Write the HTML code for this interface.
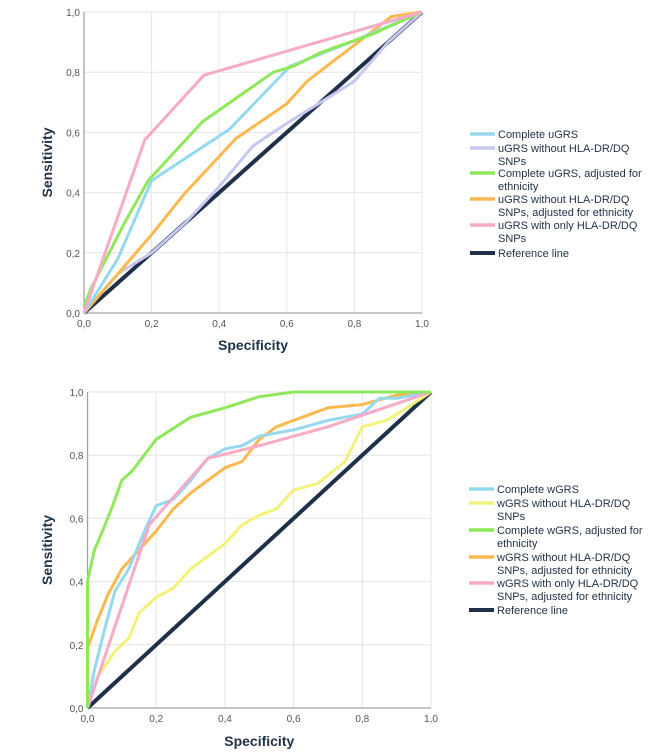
<!DOCTYPE html>
<html><head><meta charset="utf-8"><style>
body{margin:0;background:#fff;}
svg{display:block;font-family:"Liberation Sans",sans-serif;}
</style></head><body>
<svg id="s" width="666" height="752" viewBox="0 0 666 752"></svg>
<script>
const ticks=[0,0.2,0.4,0.6,0.8,1.0];
const tickLabels=["0,0","0,2","0,4","0,6","0,8","1,0"];
// top chart series [specificity-axis, sensitivity]
const topBlueX=[0,0.1,0.2,0.43,0.61,0.8,1];
const topBlueY=[0,0.18,0.44,0.61,0.82,0.905,1];
const topLavX=[0,0.1,0.2,0.3,0.4,0.5,0.6,0.7,0.8,0.9,1];
const topLavY=[0,0.13,0.2,0.3,0.42,0.555,0.63,0.7,0.77,0.9,1];
const topGreenX=[0,0.02,0.12,0.19,0.35,0.56,0.62,0.7,0.85,1];
const topGreenY=[0.02,0.08,0.3,0.44,0.635,0.8,0.82,0.865,0.925,1];
const topOrangeX=[0,0.1,0.2,0.3,0.45,0.6,0.66,0.8,0.91,1];
const topOrangeY=[0,0.13,0.26,0.4,0.58,0.695,0.77,0.89,0.985,1];
const topPinkX=[0,0.18,0.355,1];
const topPinkY=[0,0.575,0.79,1];
const refX=[0,1];
const refY=[0,1];
// bottom chart
const botBlueX=[0,0.02,0.05,0.08,0.12,0.17,0.2,0.25,0.3,0.35,0.4,0.45,0.5,0.6,0.7,0.8,0.85,0.9,1];
const botBlueY=[0,0.12,0.25,0.37,0.44,0.57,0.64,0.66,0.72,0.79,0.82,0.83,0.86,0.88,0.91,0.93,0.98,0.98,1];
const botYellowX=[0,0.03,0.08,0.12,0.15,0.2,0.25,0.3,0.35,0.4,0.45,0.5,0.55,0.6,0.67,0.75,0.8,0.87,0.93,1];
const botYellowY=[0,0.1,0.18,0.22,0.3,0.35,0.38,0.44,0.48,0.52,0.58,0.61,0.63,0.69,0.71,0.78,0.89,0.91,0.95,1];
const botGreenX=[0,0,0.02,0.04,0.07,0.1,0.13,0.2,0.3,0.4,0.5,0.6,1];
const botGreenY=[0,0.4,0.5,0.55,0.63,0.72,0.75,0.85,0.92,0.95,0.985,1,1];
const botOrangeX=[0,0,0.03,0.06,0.1,0.15,0.2,0.25,0.3,0.4,0.45,0.5,0.55,0.6,0.7,0.8,0.9,1];
const botOrangeY=[0,0.19,0.28,0.36,0.44,0.5,0.56,0.63,0.68,0.76,0.78,0.85,0.89,0.91,0.95,0.96,0.99,1];
const botPinkX=[0,0.18,0.35,0.5,0.7,1];
const botPinkY=[0,0.58,0.79,0.83,0.89,1];

const NS="http://www.w3.org/2000/svg";
const svg=document.getElementById('s');
function mk(tag,attrs,parent){const e=document.createElementNS(NS,tag);for(const k in attrs)e.setAttribute(k,attrs[k]);(parent||svg).appendChild(e);return e;}

function chart(name,x0,x1,y0,y1,titleOff,series,legendX,legendItems){
  const g=mk('g',{});
  
  
  const sx=v=>x0+v*(x1-x0), sy=v=>y0-v*(y0-y1);
  ticks.forEach((t,i)=>{
    if(i>0){
      const gl=mk('line',{x1:sx(t),x2:sx(t),y1:y0,y2:y1,stroke:'#e3e6e6','stroke-width':1},g);
      
      
      const gh=mk('line',{x1:x0,x2:x1,y1:sy(t),y2:sy(t),stroke:'#e3e6e6','stroke-width':1},g);
      
      
    }
    const xt=mk('text',{x:sx(t),y:y0+14,'font-size':10,fill:'#555','text-anchor':'middle'},g);
    xt.textContent=tickLabels[i];
    
    
    const yt=mk('text',{x:x0-4,y:sy(t)+4,'font-size':10,fill:'#555','text-anchor':'end'},g);
    yt.textContent=tickLabels[i];
    
    
  });
  const ax=mk('path',{d:`M${x0},${y1}V${y0}H${x1}`,fill:'none',stroke:'#9aa6a6','stroke-width':1.3},g);
  
  
  series.forEach(s=>{
    const d=s.x.map((v,i)=>(i?'L':'M')+sx(v).toFixed(1)+','+sy(s.y[i]).toFixed(1)).join('');
    const p=mk('path',{d:d,fill:'none',stroke:s.c,'stroke-width':s.w||3,'stroke-linejoin':'round'},g);
    
    
  });
  const xl=mk('text',{x:(x0+x1)/2,y:y0+titleOff,'font-size':14,'font-weight':'bold',fill:'#1f3048','text-anchor':'middle'},g);
  xl.textContent='Specificity';
  
  
  const cy=(y0+y1)/2;
  const yl=mk('text',{x:0,y:0,transform:`translate(52,${cy}) rotate(-90)`,'font-size':14,'font-weight':'bold',fill:'#1f3048','text-anchor':'middle'},g);
  yl.textContent='Sensitivity';
  
  
  legendItems.forEach(it=>{
    const lg=mk('g',{},g);
    
    
    mk('line',{x1:legendX,x2:legendX+25,y1:it.y-4,y2:it.y-4,stroke:it.c,'stroke-width':it.c==='#1f3048'?4:3.5},lg);
    it.t.forEach((line,k)=>{
      const tx=mk('text',{x:legendX+28,y:it.y+k*13,'font-size':11,fill:'#1f3048'},lg);
      tx.textContent=line;
    });
  });
}

const C={blue:'#95d8f0',lav:'#c6c8f0',green:'#8fe85a',orange:'#fbb84e',pink:'#f8aac6',yellow:'#f2f27a',ref:'#1f3048'};

chart('top-roc-chart',84,422,313,12,37,[
  {n:'ref-line',x:refX,y:refY,c:C.ref,w:4},
  {n:'line-uGRS-no-hla',x:topLavX,y:topLavY,c:C.lav},
  {n:'line-uGRS-no-hla-adj',x:topOrangeX,y:topOrangeY,c:C.orange},
  {n:'line-complete-uGRS',x:topBlueX,y:topBlueY,c:C.blue},
  {n:'line-complete-uGRS-adj',x:topGreenX,y:topGreenY,c:C.green},
  {n:'line-uGRS-hla-only',x:topPinkX,y:topPinkY,c:C.pink}
],470,[
  {y:138,c:C.blue,t:['Complete uGRS']},
  {y:152,c:C.lav,t:['uGRS without HLA-DR/DQ','SNPs']},
  {y:177,c:C.green,t:['Complete uGRS, adjusted for','ethnicity']},
  {y:203,c:C.orange,t:['uGRS without HLA-DR/DQ','SNPs, adjusted for ethnicity']},
  {y:229,c:C.pink,t:['uGRS with only HLA-DR/DQ','SNPs']},
  {y:257,c:C.ref,t:['Reference line']}
]);

chart('bottom-roc-chart',87.5,431,708,392,38,[
  {n:'ref-line',x:refX,y:refY,c:C.ref,w:4},
  {n:'line-wGRS-no-hla',x:botYellowX,y:botYellowY,c:C.yellow},
  {n:'line-wGRS-no-hla-adj',x:botOrangeX,y:botOrangeY,c:C.orange},
  {n:'line-complete-wGRS',x:botBlueX,y:botBlueY,c:C.blue},
  {n:'line-wGRS-hla-only-adj',x:botPinkX,y:botPinkY,c:C.pink},
  {n:'line-complete-wGRS-adj',x:botGreenX,y:botGreenY,c:C.green}
],469,[
  {y:493,c:C.blue,t:['Complete wGRS']},
  {y:507,c:C.yellow,t:['wGRS without HLA-DR/DQ','SNPs']},
  {y:534,c:C.green,t:['Complete wGRS, adjusted for','ethnicity']},
  {y:561,c:C.orange,t:['wGRS without HLA-DR/DQ','SNPs, adjusted for ethnicity']},
  {y:587,c:C.pink,t:['wGRS with only HLA-DR/DQ','SNPs, adjusted for ethnicity']},
  {y:614,c:C.ref,t:['Reference line']}
]);
</script>
</body></html>
